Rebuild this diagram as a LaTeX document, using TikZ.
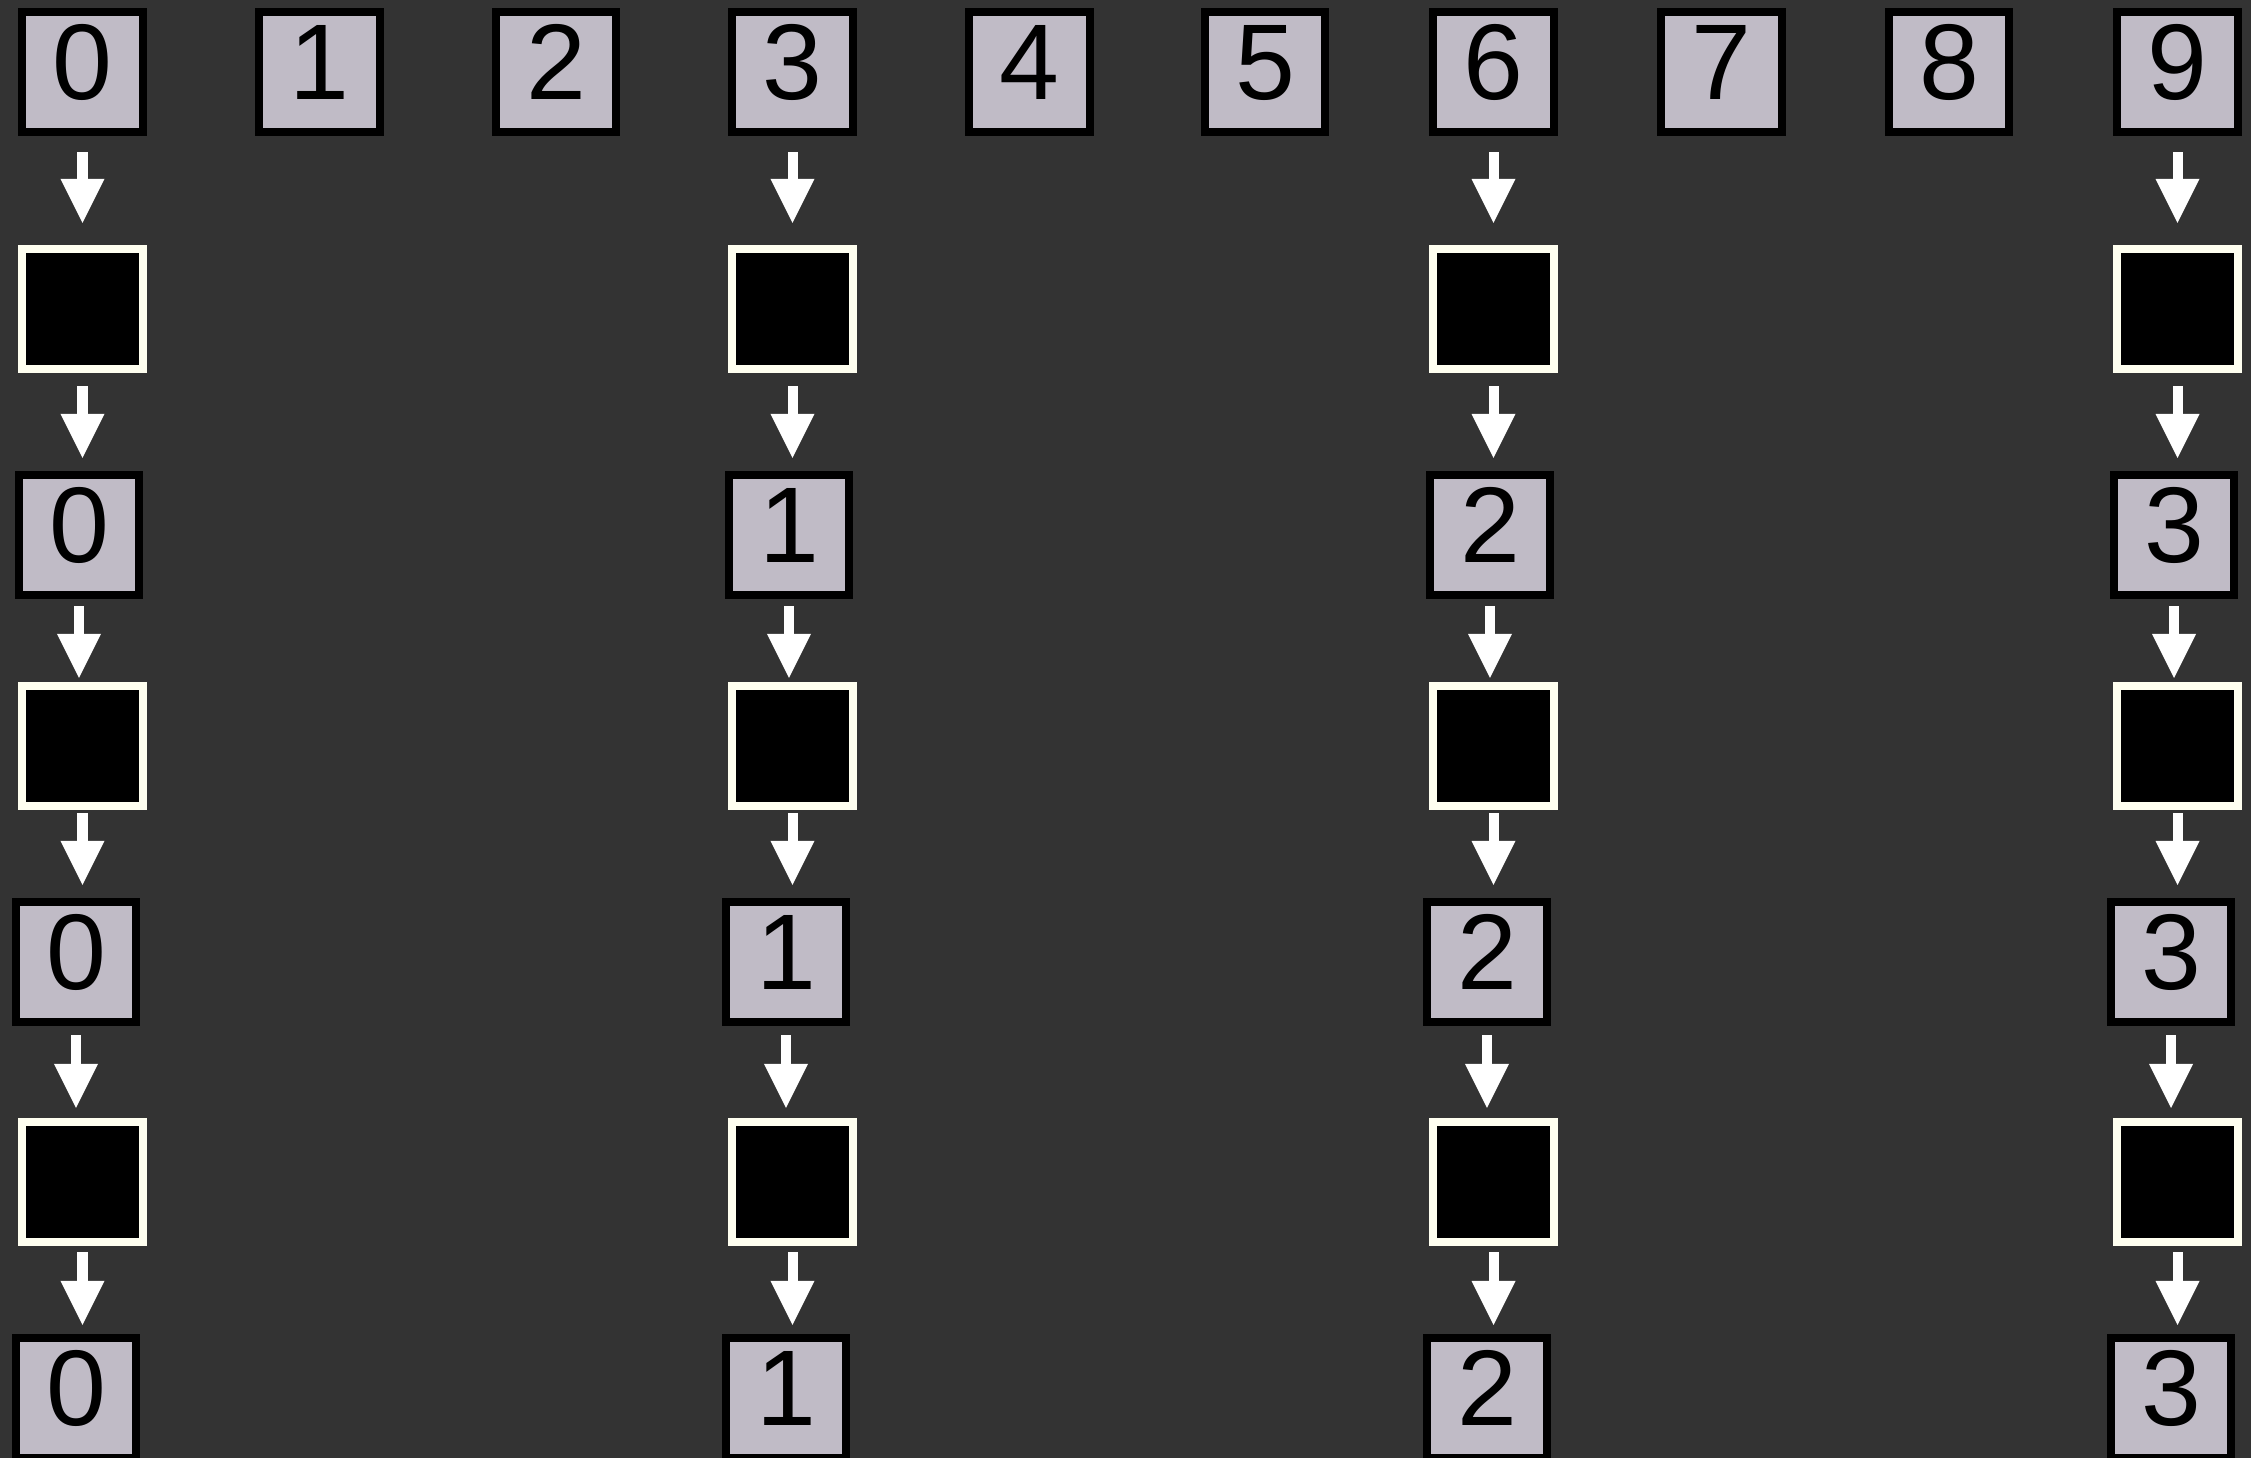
\documentclass[tikz,border=0pt]{standalone}
\usepackage{fontspec}
\setmainfont{Liberation Sans}
\usetikzlibrary{arrows.meta,positioning}
\definecolor{backdrop}{RGB}{51,51,51}
\definecolor{cellgray}{RGB}{192,187,198}
\definecolor{ivory}{RGB}{255,255,240}

\begin{document}
\begin{tikzpicture}[
    x=0.01cm, y=-0.01cm,
    cell/.style={rectangle, draw=black, fill=cellgray, line width=0.08cm, minimum size=1.2cm, inner sep=0pt, text height=0.77cm, text depth=0.22cm, font=\fontsize{30.6pt}{30.6pt}\selectfont},
    masked/.style={rectangle, draw=ivory, fill=black, line width=0.08cm, minimum size=1.2cm, inner sep=0pt},
    flow/.style={draw=white, line width=0.1cm, -{Triangle[width=0.44cm, length=0.44cm, line width=0pt]}}
]
    \useasboundingbox (0,0) rectangle (2251,1458);
    \fill[backdrop] (0,0) rectangle (2251,1458);
    \clip (0,0) rectangle (2251,1458);

    % input row
    \foreach \d/\x in {0/82.5, 1/319.5, 2/556, 3/792.5, 4/1029.5, 5/1265, 6/1493.5, 7/1721.5, 8/1949, 9/2177.5}
        \node[cell] (col\d-0) at (\x,72) {\d};

    % sampled columns
    \foreach \c/\v/\x in {0/0/82.5, 3/1/792.5, 6/2/1493.5, 9/3/2177.5} {
        \node[masked] (col\c-1) at (\x,309) {};
        \node[cell] (col\c-2) at (\x-3.5,535) {\v};
        \node[masked] (col\c-3) at (\x,746) {};
        \node[cell] (col\c-4) at (\x-6.5,962) {\v};
        \node[masked] (col\c-5) at (\x,1182) {};
        \node[cell] (col\c-6) at (\x-6.5,1398) {\v};
        \foreach \r/\n/\s/\t in {0/1/0.16/0.22, 1/2/0.13/0.13, 2/3/0.07/0.04, 3/4/0.03/0.13, 4/5/0.09/0.10, 5/6/0.06/0.09}
            \draw[flow, shorten <=\s cm, shorten >=\t cm] (col\c-\r.south) -- (col\c-\r.south |- col\c-\n.north);
    }
\end{tikzpicture}
\end{document}
